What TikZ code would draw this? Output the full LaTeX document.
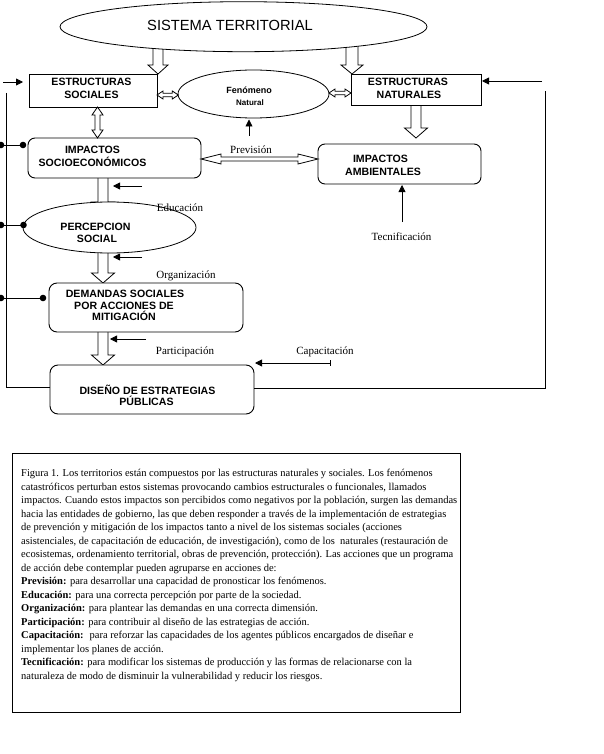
\documentclass[tikz,border=0pt]{standalone}
\usepackage{fontspec}
\setmainfont{Liberation Serif}
\setsansfont{Liberation Sans}
\usetikzlibrary{shapes.geometric,arrows.meta}
\pgfdeclarelayer{bg}
\pgfsetlayers{bg,main}
% hollow block arrow pointing down: x, top, head start, tip, shaft half, head half
\newcommand\blockdown[6]{\filldraw[blk] (#1-#5,#2) -- (#1-#5,#3) -- (#1-#6,#3) -- (#1,#4) -- (#1+#6,#3) -- (#1+#5,#3) -- (#1+#5,#2);}
% horizontal hollow double arrow: x1, x2, y, shaft half, head half, head length
\newcommand\dblh[6]{\filldraw[blk] (#1,#3) -- (#1+#6,#3-#5) -- (#1+#6,#3-#4) -- (#2-#6,#3-#4) -- (#2-#6,#3-#5) -- (#2,#3) -- (#2-#6,#3+#5) -- (#2-#6,#3+#4) -- (#1+#6,#3+#4) -- (#1+#6,#3+#5) -- cycle;}
% vertical hollow double arrow: y1, y2, x, shaft half, head half, head length
\newcommand\dblv[6]{\filldraw[blk] (#3,#1) -- (#3-#5,#1+#6) -- (#3-#4,#1+#6) -- (#3-#4,#2-#6) -- (#3-#5,#2-#6) -- (#3,#2) -- (#3+#5,#2-#6) -- (#3+#4,#2-#6) -- (#3+#4,#1+#6) -- (#3+#5,#1+#6) -- cycle;}
\tikzset{
  blk/.style={draw=black, fill=white, line width=0.8pt, line join=miter},
  rbox/.style={draw, rectangle, line width=0.9pt, fill=white, inner sep=0pt},
  rrbox/.style={rbox, rounded corners=7pt},
  ell/.style={draw, ellipse, line width=0.8pt, fill=white, inner sep=0pt},
  lb/.style={font=\sffamily\bfseries\fontsize{10.6}{12}\selectfont, anchor=base, inner sep=0pt},
  sl/.style={font=\fontsize{11}{13}\selectfont, anchor=base, inner sep=0pt},
  capt/.style={font=\fontsize{10.5}{12}\selectfont, anchor=base west, inner sep=0pt},
  arr/.style={line width=0.8pt, -{Triangle[length=7pt,width=7pt]}},
  ln/.style={line width=0.8pt},
  dot/.style={fill=black},
}
\begin{document}
\begin{tikzpicture}[x=1pt,y=-1pt]
\useasboundingbox (0,0) rectangle (604,754);

% block arrows (behind the shapes)
\begin{pgfonlayer}{bg}
\blockdown{158}{40}{65}{74}{5}{10}
\blockdown{352}{40}{65}{74}{6}{11}
\blockdown{416}{100}{128}{138}{5}{11.5}
\blockdown{103}{175}{202}{212}{5}{11.5}
\blockdown{103}{245}{273}{283}{5}{11.5}
\blockdown{103}{330}{355}{365}{5}{11.5}
\end{pgfonlayer}

% shapes
\node[ell, minimum width=367pt, minimum height=50pt] (st) at (243.5,26.7) {};
\node[font=\sffamily\fontsize{14.7}{17}\selectfont, anchor=base, inner sep=0pt] (stt) at (230,31) {SISTEMA TERRITORIAL};

\node[rbox, minimum width=128pt, minimum height=33pt] (es) at (93,90.5) {};
\node[lb] (es1) at (91.5,85.6) {ESTRUCTURAS};
\node[lb] (es2) at (91.5,98.6) {SOCIALES};

\node[ell, minimum width=151pt, minimum height=48pt] (fn) at (253.5,94) {};
\node[lb, font=\sffamily\bfseries\fontsize{9}{11}\selectfont] (fn1) at (249,93.2) {Fenómeno};
\node[lb, font=\sffamily\bfseries\fontsize{8}{10}\selectfont] (fn2) at (250,105.9) {Natural};

\node[rbox, minimum width=130pt, minimum height=31pt] (en) at (416,89.5) {};
\node[lb] (en1) at (408,85.6) {ESTRUCTURAS};
\node[lb] (en2) at (409,98.6) {NATURALES};

\node[rrbox, minimum width=173pt, minimum height=40pt] (ise) at (114.5,158) {};
\node[lb] (ise1) at (92.5,153.6) {IMPACTOS};
\node[lb] (ise2) at (92.5,166.6) {SOCIOECONÓMICOS};

\node[rrbox, minimum width=163pt, minimum height=40pt] (ia) at (399.5,164) {};
\node[lb] (ia1) at (380.5,162.6) {IMPACTOS};
\node[lb] (ia2) at (383,175.6) {AMBIENTALES};

\node[ell, minimum width=173pt, minimum height=51pt] (ps) at (109.5,227.5) {};
\node[lb] (ps1) at (95.5,230.9) {PERCEPCION};
\node[lb] (ps2) at (97,242.6) {SOCIAL};

\node[rrbox, rounded corners=8pt, minimum width=194pt, minimum height=49pt] (dem) at (146,307.5) {};
\node[lb] (dem1) at (125,297.6) {DEMANDAS SOCIALES};
\node[lb] (dem2) at (124,309.6) {POR ACCIONES DE};
\node[lb] (dem3) at (124,320.6) {MITIGACIÓN};

\node[rrbox, rounded corners=8pt, minimum width=204pt, minimum height=49pt] (dis) at (152,389.5) {};
\node[lb] (dis1) at (147.5,394.3) {DISEÑO DE ESTRATEGIAS};
\node[lb] (dis2) at (146.5,405.3) {PÚBLICAS};

% double hollow arrows
\dblv{107}{138}{97.5}{2.5}{5.5}{8}
\dblh{157}{178.3}{95}{1.7}{4}{6}
\dblh{329}{351}{93}{1.7}{4}{6}
\dblh{201}{318}{159}{2}{5}{20}

% action arrows
\coordinate (esin) at (3,82);   \coordinate (esin2) at (23,82);
\coordinate (enin) at (542,81); \coordinate (enin2) at (482,81);
\coordinate (fnup) at (249,136); \coordinate (fnup2) at (249,119.5);
\coordinate (tecA) at (402,222); \coordinate (tecB) at (402,185);
\coordinate (eduA) at (142,186); \coordinate (eduB) at (113,186);
\coordinate (orgA) at (142,257); \coordinate (orgB) at (113,257);
\coordinate (parA) at (146,339); \coordinate (parB) at (110,339);
\coordinate (capA) at (330,363); \coordinate (capB) at (255,363);
\draw[arr] (esin) -- (esin2);
\draw[arr] (enin) -- (enin2);
\draw[arr] (fnup) -- (fnup2);
\draw[arr] (tecA) -- (tecB);
\draw[arr] (eduA) -- (eduB);
\draw[arr] (orgA) -- (orgB);
\draw[arr] (parA) -- (parB);
\draw[arr] (capA) -- (capB);
\draw[ln] ([yshift=3pt]capA) -- ([yshift=-3pt]capA);

% feedback lines
\coordinate (lt) at (6.5,93); \coordinate (lb) at (6.5,387);
\coordinate (rt) at (545.5,91); \coordinate (rb) at (545.5,388);
\draw[ln] (lt) -- (lb) -- ([yshift=2.5pt]dis.west);
\draw[ln] ([yshift=1.5pt]dis.east) -- (rb) -- (rt);

% dotted links
\coordinate (d1a) at (1,145); \coordinate (d1b) at (23,145);
\coordinate (d2a) at (1,225); \coordinate (d2b) at (23.5,225);
\coordinate (d3a) at (1,298); \coordinate (d3b) at (43,298);
\draw[ln] (d1a) -- (d1b); \draw[ln] (d2a) -- (d2b); \draw[ln] (d3a) -- (d3b);
\foreach \p in {d1a,d1b,d2a,d2b,d3a,d3b} \fill[dot] (\p) circle (3.3pt);

% labels
\node[sl] (prev) at (251,154) {Previsión};
\node[sl] (educ) at (180,211) {Educación};
\node[sl] (org) at (186,278) {Organización};
\node[sl] (part) at (185,354) {Participación};
\node[sl] (capl) at (325,354) {Capacitación};
\node[sl] (tec) at (401.5,240) {Tecnificación};

% caption
\node[rbox, fill=none, minimum width=448pt, minimum height=259pt] (capbox) at (236,582.5) {};
\node[capt] (c1) at (21,476.5) {Figura 1. Los territorios están compuestos por las estructuras naturales y sociales. Los fenómenos};
\node[capt] (c2) at (21,490) {catastróficos perturban estos sistemas provocando cambios estructurales o funcionales, llamados};
\node[capt] (c3) at (21,503.5) {impactos. Cuando estos impactos son percibidos como negativos por la población, surgen las demandas};
\node[capt] (c4) at (21,517) {hacia las entidades de gobierno, las que deben responder a través de la implementación de estrategias};
\node[capt] (c5) at (21,530.5) {de prevención y mitigación de los impactos tanto a nivel de los sistemas sociales (acciones};
\node[capt] (c6) at (21,544) {asistenciales, de capacitación de educación, de investigación), como de los \ naturales (restauración de};
\node[capt] (c7) at (21,557.5) {ecosistemas, ordenamiento territorial, obras de prevención, protección). Las acciones que un programa};
\node[capt] (c8) at (21,571) {de acción debe contemplar pueden agruparse en acciones de:};
\node[capt] (c9) at (21,584.5) {\textbf{Previsión:} para desarrollar una capacidad de pronosticar los fenómenos.};
\node[capt] (c10) at (21,598) {\textbf{Educación:} para una correcta percepción por parte de la sociedad.};
\node[capt] (c11) at (21,611.5) {\textbf{Organización:} para plantear las demandas en una correcta dimensión.};
\node[capt] (c12) at (21,625) {\textbf{Participación:} para contribuir al diseño de las estrategias de acción.};
\node[capt] (c13) at (21,638.5) {\textbf{Capacitación:} \ para reforzar las capacidades de los agentes públicos encargados de diseñar e};
\node[capt] (c14) at (21,652) {implementar los planes de acción.};
\node[capt] (c15) at (21,665.5) {\textbf{Tecnificación:} para modificar los sistemas de producción y las formas de relacionarse con la};
\node[capt] (c16) at (21,679) {naturaleza de modo de disminuir la vulnerabilidad y reducir los riesgos.};
\end{tikzpicture}
\end{document}
